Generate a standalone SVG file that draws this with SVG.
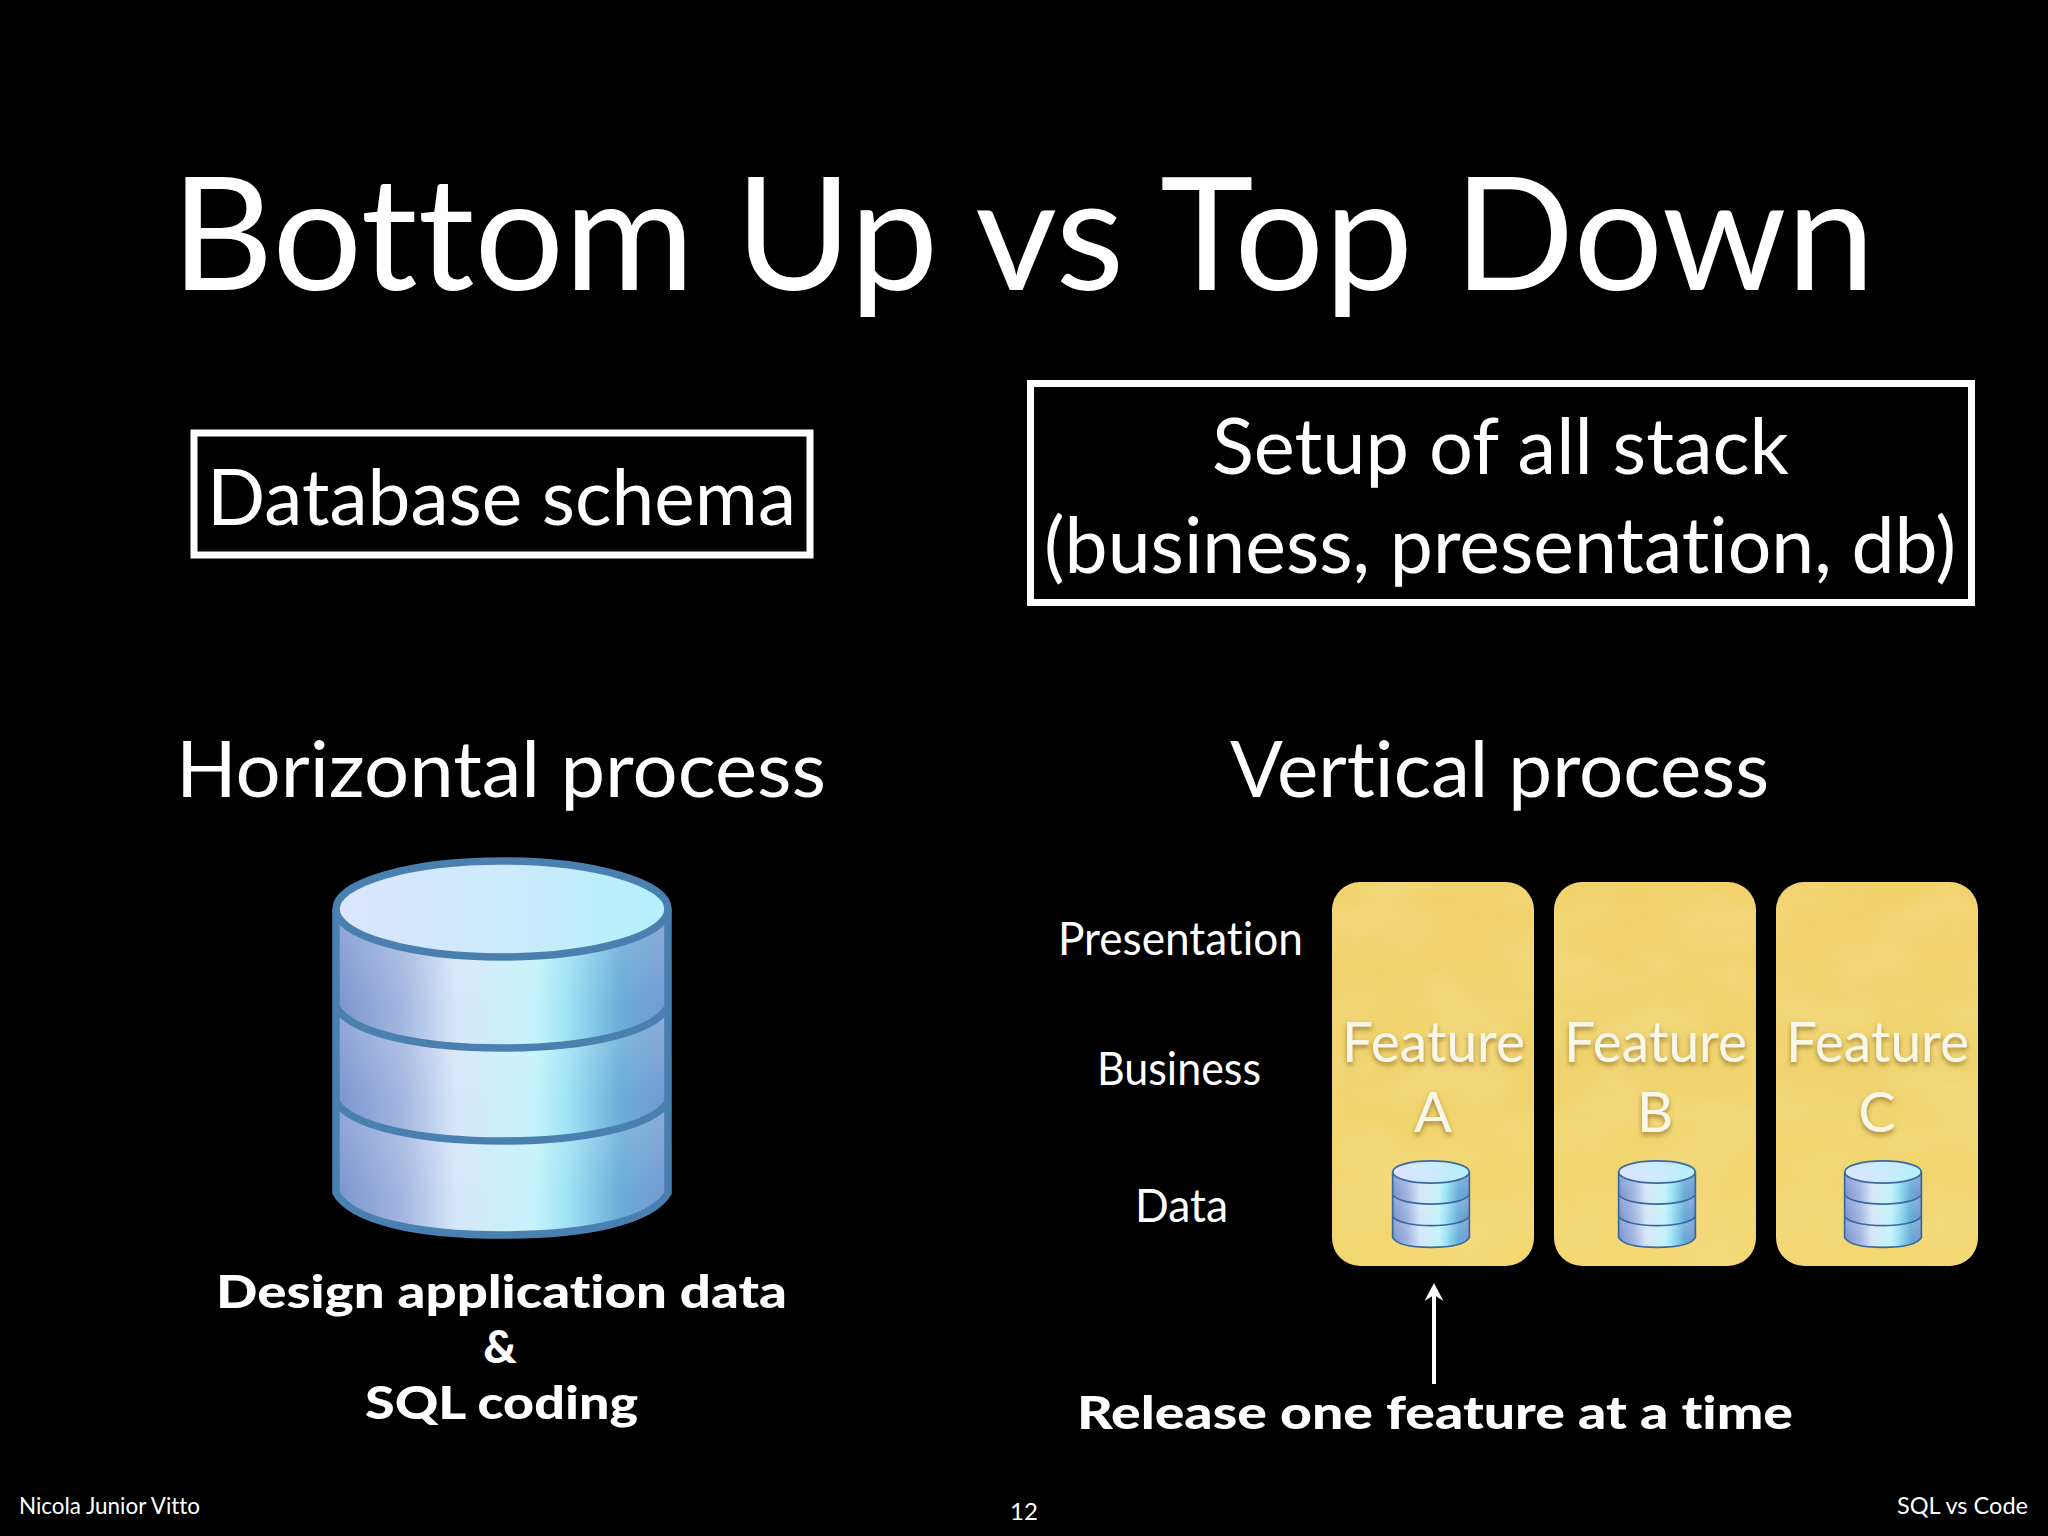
<svg xmlns="http://www.w3.org/2000/svg" width="2048" height="1536" viewBox="0 0 2048 1536">
<style>
text{font-family:"Lato","Open Sans","Liberation Sans",sans-serif;fill:#fff;font-variant-ligatures:none}
.m{text-anchor:middle}
.b{font-weight:900;font-size:46px}
.l{font-size:46px}
.f{font-size:56px;fill:#fbf7e8;filter:url(#sh)}
.foot{font-size:24px}
.box{fill:none;stroke:#fff;stroke-width:7}
.card{fill:url(#gold);filter:url(#mottle)}
.cyl-s{fill:none;stroke:currentColor;stroke-width:7.5}
</style>
<defs>
<linearGradient id="side" x1="0" x2="1" y1="0" y2="0">
<stop offset="0" stop-color="#7a94cf"/><stop offset=".2" stop-color="#a3b6e0"/><stop offset=".36" stop-color="#d6e6f9"/><stop offset=".6" stop-color="#c4f3fb"/><stop offset=".7" stop-color="#9de2f4"/><stop offset=".86" stop-color="#68acd9"/><stop offset="1" stop-color="#7598d2"/>
</linearGradient>
<linearGradient id="shade" x1="0" x2="0" y1="0" y2="1">
<stop offset="0" stop-color="#fff" stop-opacity=".2"/><stop offset=".7" stop-color="#fff" stop-opacity="0"/>
</linearGradient>
<linearGradient id="top" x1="0" x2="1" y1="0" y2="0">
<stop offset="0" stop-color="#dbe5fd"/><stop offset=".5" stop-color="#cdeafc"/><stop offset="1" stop-color="#b2f0fb"/>
</linearGradient>
<linearGradient id="gold" x1="0" x2="0" y1="0" y2="1">
<stop offset="0" stop-color="#f1d26b"/><stop offset=".5" stop-color="#f0d36e"/><stop offset="1" stop-color="#f3d76f"/>
</linearGradient>
<filter id="mottle" x="0" y="0" width="1" height="1">
<feTurbulence type="fractalNoise" baseFrequency=".012 .02" numOctaves="3" seed="4" result="n"/>
<feColorMatrix in="n" type="matrix" values="0 0 0 0 1  0 0 0 0 .92  0 0 0 0 .55  0 0 0 .28 -.1" result="t"/>
<feComposite in="t" in2="SourceAlpha" operator="in" result="c"/>
<feMerge><feMergeNode in="SourceGraphic"/><feMergeNode in="c"/></feMerge>
</filter>
<filter id="sh" x="-10%" y="-20%" width="120%" height="150%">
<feDropShadow dx="0" dy="3" stdDeviation="2.5" flood-color="#8a6a20" flood-opacity=".75"/>
</filter>
<marker id="arrow" viewBox="0 0 18 19" refX="6" refY="9.5" markerUnits="userSpaceOnUse" markerWidth="18" markerHeight="19" orient="auto">
<path d="M18 9.5L0 0L6 9.5L0 19Z" fill="#fff"/>
</marker>
<g id="cyl">
<path d="M-166 0V284C-150 312-85 326 0 326S150 312 166 284V0Z" fill="url(#side)"/>
<path d="M-166 0V98C-150 125-80 139 0 139S150 125 166 98V0Z" fill="url(#shade)"/>
<path d="M-166 98V193C-150 218-80 232 0 232S150 218 166 193V98C150 125 80 139 0 139S-150 125-166 98Z" fill="url(#shade)"/>
<path d="M-166 193V284C-150 312-85 326 0 326S150 312 166 284V193C150 218 80 232 0 232S-150 218-166 193Z" fill="url(#shade)"/>
<ellipse cx="0" cy="0" rx="166" ry="48" fill="url(#top)"/>
<path class="cyl-s" d="M-166 0V284C-150 312-85 326 0 326S150 312 166 284V0M-166 98C-150 125-80 139 0 139S150 125 166 98M-166 193C-150 218-80 232 0 232S150 218 166 193"/>
<ellipse class="cyl-s" cx="0" cy="0" rx="166" ry="48"/>
</g>
</defs>
<rect width="2048" height="1536" fill="#000"/>

<g id="title"><text x="171" y="290" font-size="158" textLength="1704" lengthAdjust="spacingAndGlyphs">Bottom Up vs Top Down</text></g>

<g id="box-left">
<rect class="box" x="194" y="433" width="616" height="122"/>
<text x="207" y="525" font-size="78" textLength="589" lengthAdjust="spacingAndGlyphs">Database schema</text>
</g>
<g id="box-right">
<rect class="box" x="1030.5" y="383.5" width="941" height="219"/>
<text x="1212" y="474" font-size="78" textLength="577" lengthAdjust="spacingAndGlyphs">Setup of all stack</text>
<text x="1044" y="573" font-size="78" textLength="912" lengthAdjust="spacingAndGlyphs">(business, presentation, db)</text>
</g>

<g id="heading-left"><text x="176" y="797" font-size="78" textLength="650" lengthAdjust="spacingAndGlyphs">Horizontal process</text></g>
<g id="heading-right"><text x="1230" y="797" font-size="78" textLength="539" lengthAdjust="spacingAndGlyphs">Vertical process</text></g>

<g id="database" color="#4a80b0"><use href="#cyl" x="502" y="909"/></g>
<g id="caption-left">
<text class="b" x="216" y="1308" textLength="571" lengthAdjust="spacingAndGlyphs">Design application data</text>
<text class="b m" x="500" y="1363">&amp;</text>
<text class="b" x="365" y="1419" textLength="273" lengthAdjust="spacingAndGlyphs">SQL coding</text>
</g>

<g id="layers">
<text class="l" x="1058" y="955" textLength="245" lengthAdjust="spacingAndGlyphs">Presentation</text>
<text class="l" x="1097" y="1085" textLength="164" lengthAdjust="spacingAndGlyphs">Business</text>
<text class="l" x="1135" y="1222" textLength="93" lengthAdjust="spacingAndGlyphs">Data</text>
</g>

<g id="feature-a">
<rect class="card" x="1332" y="882" width="202" height="384" rx="28"/>
<text class="f" x="1342" y="1062" textLength="183" lengthAdjust="spacingAndGlyphs">Feature</text>
<text class="f m" x="1433" y="1132">A</text>
<use href="#cyl" color="#3a6a9c" transform="translate(1431 1172) scale(.231)"/>
</g>
<g id="feature-b">
<rect class="card" x="1554" y="882" width="202" height="384" rx="28"/>
<text class="f" x="1564" y="1062" textLength="183" lengthAdjust="spacingAndGlyphs">Feature</text>
<text class="f m" x="1655" y="1132">B</text>
<use href="#cyl" color="#3a6a9c" transform="translate(1657 1172) scale(.231)"/>
</g>
<g id="feature-c">
<rect class="card" x="1776" y="882" width="202" height="384" rx="28"/>
<text class="f" x="1786" y="1062" textLength="183" lengthAdjust="spacingAndGlyphs">Feature</text>
<text class="f m" x="1877" y="1132">C</text>
<use href="#cyl" color="#3a6a9c" transform="translate(1883 1172) scale(.231)"/>
</g>

<g id="connectors">
<line x1="1434" y1="1384" x2="1434" y2="1295" stroke="#fff" stroke-width="4" marker-end="url(#arrow)"/>
</g>
<g id="caption-right"><text class="b" x="1077" y="1429" textLength="716" lengthAdjust="spacingAndGlyphs">Release one feature at a time</text></g>

<g id="footer">
<text class="foot" x="19" y="1514" textLength="181" lengthAdjust="spacingAndGlyphs">Nicola Junior Vitto</text>
<text class="foot m" x="1024" y="1520">12</text>
<text class="foot" x="1897" y="1514" textLength="131" lengthAdjust="spacingAndGlyphs">SQL vs Code</text>
</g>
</svg>
